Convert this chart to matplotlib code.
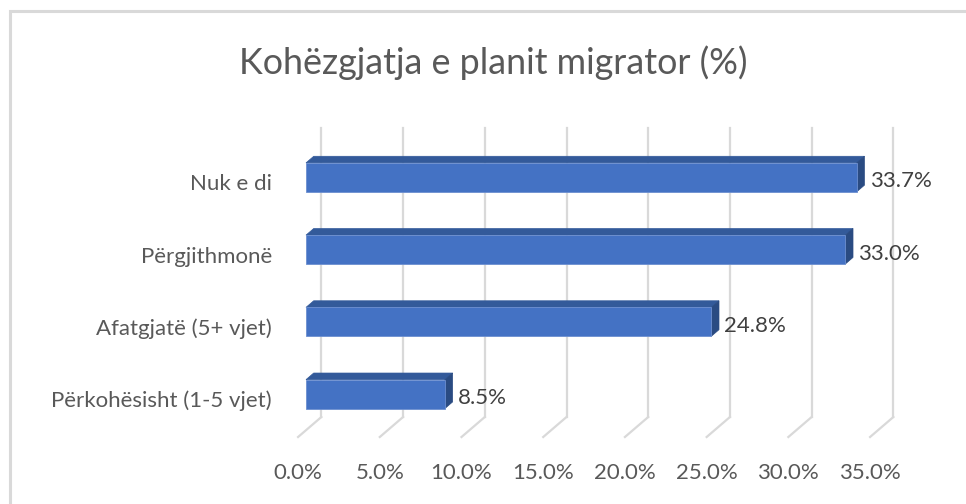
import matplotlib
matplotlib.use("Agg")
import matplotlib.pyplot as plt
from matplotlib.patches import Polygon, Rectangle
import numpy as np

# data, bottom to top
kategorite = ["Përkohësisht (1-5 vjet)", "Afatgjatë (5+ vjet)", "Përgjithmonë", "Nuk e di"]
vlerat = [8.5, 24.8, 33.0, 33.7]
ticks = [0, 5, 10, 15, 20, 25, 30, 35]
tick_labels = ["0.0%", "5.0%", "10.0%", "15.0%", "20.0%", "25.0%", "30.0%", "35.0%"]
titulli = "Kohëzgjatja e planit migrator (%)"

FONT = "Lato"
BLU = "#4472C4"
BLU_TOP = "#335A9A"
BLU_SIDE = "#2A4B82"
GRID = "#D9D9D9"
TXT = "#595959"

W, H = 966, 504
fig = plt.figure(figsize=(W / 100, H / 100), dpi=100)

# axes = plane of the bar front faces
ax = fig.add_axes([306 / W, (H - 430.2) / H, 572 / W, 289 / H])
ax.set_xlim(0, 35)
ax.set_ylim(-0.5, 3.5)
ax.axis("off")

# depth of the 3d box (front floor -> back wall), in pixels, to data units
p0 = ax.transData.transform((0, 0))
p1 = ax.transData.transform((1, 1))
Dx = 23.3 / (p1[0] - p0[0])
Dy = 20.0 / (p1[1] - p0[1])
f_back = 0.66    # back wall behind bar plane
f_front = 0.34   # front floor edge in front of bar plane
f_bar = 0.33     # bar depth

# gridlines: back wall + floor
for t in ticks:
    bx, by = t + f_back * Dx, -0.5 + f_back * Dy
    ax.plot([bx, bx], [by, 3.5 + f_back * Dy], color=GRID, lw=1.6, clip_on=False, zorder=1)
    fx, fy = t - f_front * Dx, -0.5 - f_front * Dy
    ax.plot([bx, fx], [by, fy], color=GRID, lw=1.6, clip_on=False, zorder=1)

# tick labels under the front floor edge
for t, lab in zip(ticks, tick_labels):
    ax.annotate(lab, xy=(t - f_front * Dx, -0.5 - f_front * Dy), xytext=(0, -36),
                textcoords="offset pixels", ha="center", va="center",
                fontsize=16, color=TXT, family=FONT, annotation_clip=False)

# bars
h = 0.4
y = np.arange(len(vlerat))
ax.barh(y, vlerat, height=h, color=BLU, edgecolor="#6C8FD0", linewidth=0.6, zorder=3)
for yi, v in zip(y, vlerat):
    top = yi + h / 2
    bot = yi - h / 2
    ax.add_patch(Polygon([(0, top), (v, top), (v + f_bar * Dx, top + f_bar * Dy),
                          (f_bar * Dx, top + f_bar * Dy)],
                         closed=True, facecolor=BLU_TOP, edgecolor=BLU_TOP, lw=0.5,
                         zorder=2, clip_on=False))
    ax.add_patch(Polygon([(v, bot), (v, top), (v + f_bar * Dx, top + f_bar * Dy),
                          (v + f_bar * Dx, bot + f_bar * Dy)],
                         closed=True, facecolor=BLU_SIDE, edgecolor=BLU_SIDE, lw=0.5,
                         zorder=2, clip_on=False))
    ax.annotate(f"{v:.1f}%", xy=(v, yi), xytext=(13, -4), textcoords="offset pixels",
                ha="left", va="center", fontsize=16, color="#404040", family=FONT,
                annotation_clip=False)

# category labels
for yi, k in zip(y, kategorite):
    ax.annotate(k, xy=(0, yi), xytext=(-34, -7), textcoords="offset pixels",
                ha="right", va="center", fontsize=16, color=TXT, family=FONT,
                annotation_clip=False)

fig.text(493 / W, 1 - 63 / H, titulli, ha="center", va="center", fontsize=25.8,
         color=TXT, family=FONT)

# chart border (only top and left visible)
fig.add_artist(Rectangle((9.5 / W, -0.1), 1.2, 1 - 10.5 / H + 0.1, transform=fig.transFigure,
                         fill=False, edgecolor=GRID, lw=2.2))

fig.savefig("out.png", dpi=100)
